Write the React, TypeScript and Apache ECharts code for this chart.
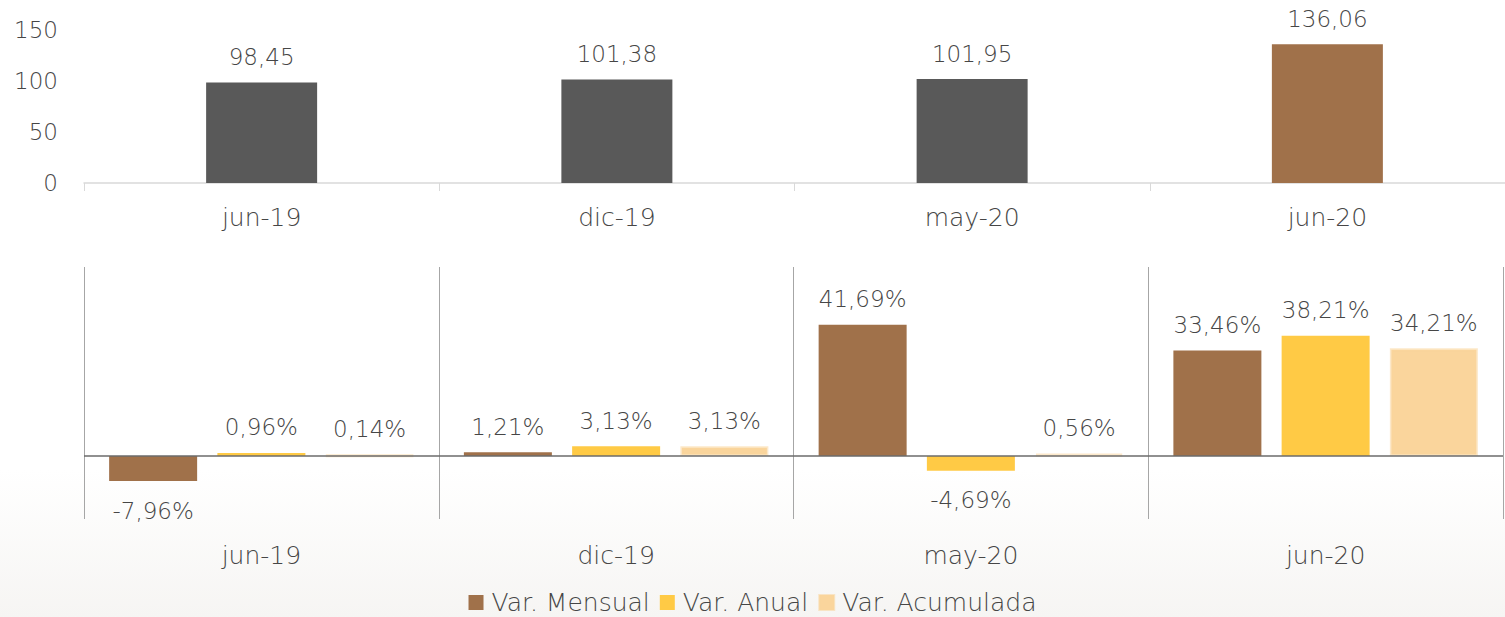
import React, { useEffect, useRef } from "react";
import * as echarts from "echarts";

const categories = ["jun-19", "dic-19", "may-20", "jun-20"];
const indexValues = [98.45, 101.38, 101.95, 136.06];
const varMensual = [-7.96, 1.21, 41.69, 33.46];
const varAnual = [0.96, 3.13, -4.69, 38.21];
const varAcumulada = [0.14, 3.13, 0.56, 34.21];
const seriesNames = ["Var. Mensual", "Var. Anual", "Var. Acumulada"];

const FONT = "DejaVu Sans";
const WEIGHT = 300;
const TXT = "#464646";
const BROWN = "#A0714A";
const YELLOW = "#FFCA45";
const PEACH = "#FAD59C";
const GRAY = "#595959";

const fmt = (v: number) => v.toFixed(2).replace(".", ",");

export default function App() {
  const ref = useRef<HTMLDivElement>(null);
  useEffect(() => {
    if (!ref.current) return;
    const chart = echarts.init(ref.current, undefined, { renderer: "svg" });

    const pctSeries = (name: string, values: number[], color: string, withZero: boolean, soft: boolean) => ({
      type: "bar",
      name,
      xAxisIndex: 1,
      yAxisIndex: 1,
      barWidth: 88,
      barGap: "23%",
      itemStyle: soft
        ? { color, borderColor: "rgba(250,213,156,0.55)", borderWidth: 3 }
        : { color },
      data: values.map((v) => ({
        value: v,
        label: { position: v < 0 ? "bottom" : "top", distance: v < 0 ? 18 : 14 },
      })),
      label: {
        show: true,
        fontFamily: FONT,
        fontWeight: WEIGHT,
        fontSize: 23,
        color: TXT,
        formatter: (p: any) => fmt(p.value) + "%",
      },
      markLine: withZero
        ? {
            silent: true,
            symbol: "none",
            label: { show: false },
            lineStyle: { color: "#6b6b6b", type: "solid", width: 1.5 },
            data: [{ yAxis: 0 }],
            z: 10,
          }
        : undefined,
      z: 3,
    });

    chart.setOption({
      animation: false,
      backgroundColor: "#ffffff",
      textStyle: { fontFamily: FONT },
      graphic: [
        {
          type: "rect",
          z: -10,
          silent: true,
          shape: { x: 0, y: 470, width: 1505, height: 147 },
          style: {
            fill: new echarts.graphic.LinearGradient(0, 0, 0, 1, [
              { offset: 0, color: "rgba(246,245,243,0)" },
              { offset: 1, color: "rgba(246,245,243,1)" },
            ]),
          },
        },
      ],
      grid: [
        { left: 84, right: 0, top: 30, height: 153 },
        { left: 84, right: 2, top: 267, height: 252 },
      ],
      xAxis: [
        {
          type: "category",
          gridIndex: 0,
          data: categories,
          axisLine: { lineStyle: { color: "#d9d9d9", width: 1.5 } },
          axisTick: { show: true, length: 8, lineStyle: { color: "#d9d9d9" } },
          axisLabel: { color: TXT, fontSize: 25, fontFamily: FONT, fontWeight: WEIGHT, margin: 22 },
        },
        {
          type: "category",
          gridIndex: 1,
          data: categories,
          axisLine: { show: false, onZero: false },
          axisTick: { show: false },
          splitLine: { show: true, lineStyle: { color: "#a6a6a6", width: 1 } },
          axisLabel: { color: TXT, fontSize: 25, fontFamily: FONT, fontWeight: WEIGHT, margin: 24 },
        },
      ],
      yAxis: [
        {
          type: "value",
          gridIndex: 0,
          min: 0,
          max: 150,
          interval: 50,
          axisLine: { show: false },
          axisTick: { show: false },
          splitLine: { show: false },
          axisLabel: { color: TXT, fontSize: 23, fontFamily: FONT, fontWeight: WEIGHT, margin: 26 },
        },
        {
          type: "value",
          gridIndex: 1,
          min: -20,
          max: 60,
          interval: 20,
          show: false,
          splitLine: { show: false },
        },
      ],
      legend: {
        data: seriesNames,
        top: 585,
        left: "center",
        itemWidth: 15,
        itemHeight: 15,
        itemGap: 10,
        icon: "rect",
        textStyle: {
          color: TXT,
          fontSize: 25,
          fontFamily: FONT,
          fontWeight: WEIGHT,
          padding: [0, 0, 0, 3],
        },
      },
      series: [
        {
          type: "bar",
          name: "Índice",
          xAxisIndex: 0,
          yAxisIndex: 0,
          barWidth: 111,
          data: indexValues.map((v, i) => ({
            value: v,
            itemStyle: { color: i === indexValues.length - 1 ? BROWN : GRAY },
          })),
          label: {
            show: true,
            position: "top",
            distance: 14,
            fontFamily: FONT,
            fontWeight: WEIGHT,
            fontSize: 23,
            color: TXT,
            formatter: (p: any) => fmt(p.value),
          },
        },
        pctSeries(seriesNames[0], varMensual, BROWN, true, false),
        pctSeries(seriesNames[1], varAnual, YELLOW, false, false),
        pctSeries(seriesNames[2], varAcumulada, PEACH, false, true),
      ],
    });
    return () => chart.dispose();
  }, []);
  return (
    <div
      ref={ref}
      style={{ position: "fixed", left: 0, top: 0, width: 1505, height: 617 }}
    />
  );
}
